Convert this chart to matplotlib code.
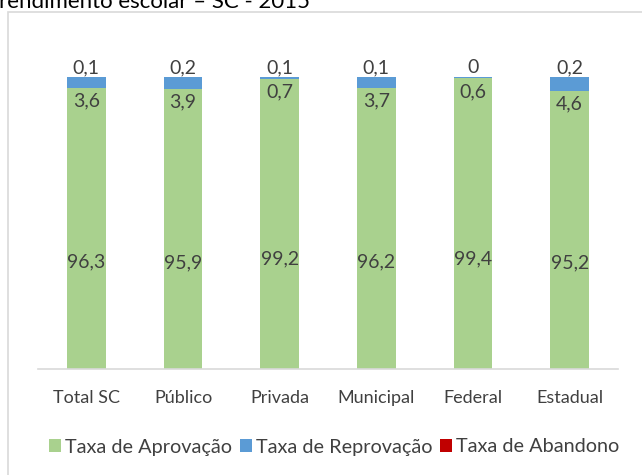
import matplotlib
matplotlib.use("Agg")
import matplotlib.pyplot as plt
from matplotlib.patches import Rectangle
import numpy as np

categories = ["Total SC", "Público", "Privada", "Municipal", "Federal", "Estadual"]
aprovacao = [96.3, 95.9, 99.2, 96.2, 99.4, 95.2]
reprovacao = [3.6, 3.9, 0.7, 3.7, 0.6, 4.6]
abandono = [0.1, 0.2, 0.1, 0.1, 0.0, 0.2]
series_names = ["Taxa de Aprovação", "Taxa de Reprovação", "Taxa de Abandono"]
title = "rendimento escolar – SC - 2015"

colors = ["#A9D18E", "#5B9BD5", "#C00000"]
txt = "#404040"
FONT = "Lato"
plt.rcParams["font.family"] = [FONT, "DejaVu Sans"]

def fmt(v):
    s = ("%.1f" % v).replace(".", ",")
    if s.endswith(",0"):
        s = s[:-2]
    return s

W, H = 642, 475
fig = plt.figure(figsize=(W / 100, H / 100), dpi=100)

# outer chart frame (extends beyond the image on right/bottom)
fig.patches.append(Rectangle((8 / W, -0.2), 1.2, 1.2 - 12 / H,
                             transform=fig.transFigure, fill=False,
                             edgecolor="#D9D9D9", linewidth=1.2, zorder=0))
fig.text(-1 / W, 1 - 8 / H, title, fontsize=16, color="#000000",
         ha="left", va="baseline")

base_px, top100_px, ax_top_px = 369, 76.7, 30
ppu = (base_px - top100_px) / 100.0
ax = fig.add_axes([38 / W, 1 - base_px / H, 580 / W, (base_px - ax_top_px) / H])
ax.set_ylim(0, (base_px - ax_top_px) / ppu)
ax.set_xlim(-0.5, len(categories) - 0.5)

x = np.arange(len(categories))
bw = 0.40
a = np.array(aprovacao)
r = np.array(reprovacao)
b = np.array(abandono)
ax.bar(x, a, bw, color=colors[0], label=series_names[0], zorder=2)
ax.bar(x, r, bw, bottom=a, color=colors[1], label=series_names[1], zorder=2)
ax.bar(x, b, bw, bottom=a + r, color=colors[2], label=series_names[2], zorder=2)

fs = 14
for i in range(len(categories)):
    tot = a[i] + r[i] + b[i]
    ax.annotate(fmt(b[i]), (x[i], tot), xytext=(0, 0.5), textcoords="offset points",
                ha="center", va="bottom", fontsize=fs, color=txt)
    ax.annotate(fmt(r[i]), (x[i], a[i]), xytext=(0, -9.5), textcoords="offset points",
                ha="center", va="center", fontsize=fs, color=txt)
    ax.text(x[i], a[i] * 0.38, fmt(a[i]), ha="center", va="center",
            fontsize=fs, color=txt)

for s in ["top", "right", "left"]:
    ax.spines[s].set_visible(False)
ax.spines["bottom"].set_color("#D9D9D9")
ax.spines["bottom"].set_linewidth(1.2)
ax.set_yticks([])
ax.set_xticks(x)
ax.set_xticklabels(categories, fontsize=13, color=txt)
ax.tick_params(axis="x", length=0, pad=15)

handles, labels = ax.get_legend_handles_labels()
fig.legend(handles, labels, loc="center", bbox_to_anchor=(334 / W, 1 - 447 / H),
           ncol=3, frameon=False, fontsize=14.3, handlelength=0.6, handleheight=0.6,
           handletextpad=0.2, columnspacing=0.4, labelcolor=txt)

fig.savefig("out.png", dpi=100)
